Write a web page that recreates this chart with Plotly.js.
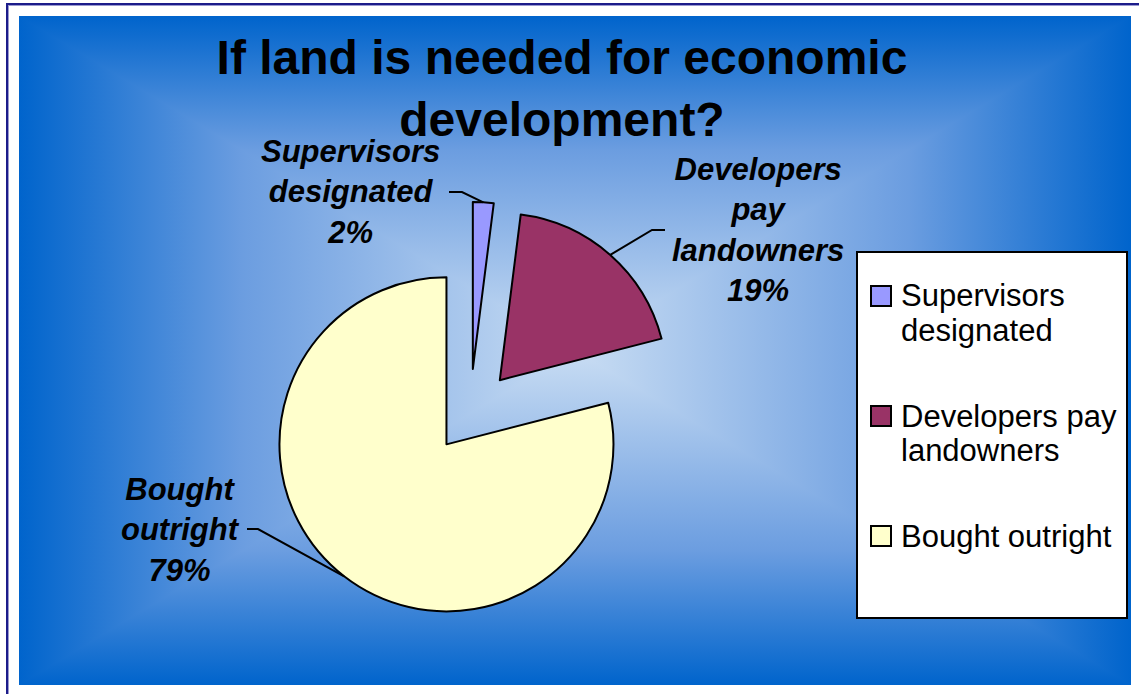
<!DOCTYPE html>
<html>
<head>
<meta charset="utf-8">
<script src="https://cdn.plot.ly/plotly-3.0.1.min.js"></script>
<style>
html,body{margin:0;padding:0;background:#ffffff;}
#wrap{position:relative;width:1139px;height:694px;overflow:hidden;background:#ffffff;}
#frame{position:absolute;left:6px;top:3px;width:1300px;height:900px;border-left:2px solid #1c1c8a;border-top:2px solid #1c1c8a;box-shadow:inset 1px 1px 0 #9a9ad0;}
#bg{position:absolute;left:19px;top:16px;width:1112px;height:669px;overflow:hidden;
  background:linear-gradient(to bottom,#0064cc 0%,#6b9de0 20%,#c9ddf3 50%,#6b9de0 80%,#0064cc 100%);}
.tri{position:absolute;left:0;top:0;width:100%;height:100%;}
#tLeft{clip-path:polygon(0 0,0 100%,50% 50%);background:linear-gradient(to right,#0064cc 0%,#6b9de0 20%,#c9ddf3 50%);}
#tRight{clip-path:polygon(100% 0,100% 100%,50% 50%);background:linear-gradient(to left,#0064cc 0%,#6b9de0 20%,#c9ddf3 50%);}
#plot{position:absolute;left:0;top:0;width:1139px;height:694px;}
</style>
</head>
<body>
<div id="wrap">
  <div id="frame"></div>
  <div id="bg">
    <div class="tri" id="tLeft"></div>
    <div class="tri" id="tRight"></div>
  </div>
  <div id="plot"></div>
</div>
<script>
// ---------- data ----------
const categories = ['Supervisors designated', 'Developers pay landowners', 'Bought outright'];
const values = [2, 19, 79];
const pullFractions = [0.27, 0.27, 0.23];
const sliceColors = ['#9999FF', '#993366', '#FFFFCC'];
const labelLines = [['Supervisors', 'designated'], ['Developers', 'pay', 'landowners'], ['Bought', 'outright']];
const legendLines = [['Supervisors', 'designated'], ['Developers pay', 'landowners'], ['Bought outright']];
const titleText = 'If land is needed for economic<br>development?';

// ---------- layout geometry (pixels) ----------
const W = 1139, H = 694;
const FONT = 'Liberation Sans, Arial, sans-serif';
const pieCx = 470, pieCy = 414, pieR = 167;
const labelLayout = [
  {cx: 350, cy: 192, lineStart: [449, 192], elbow: [462, 192]},
  {cx: 758, cy: 230, lineStart: [665, 230], elbow: [652, 230]},
  {cx: 180, cy: 530, lineStart: [247, 529], elbow: [258, 529]}
];
const legendBox = {x0: 857, y0: 252, x1: 1127, y1: 618};
const legendItems = [{sy: 296}, {sy: 416}, {sy: 536}];
const legendSq = 20, legendSqX = 871, legendTextX = 899, legendLineGap = 34;

const px = x => x / W;
const py = y => 1 - y / H;

const maxPull = Math.max(...pullFractions);
const half = pieR * (1 + maxPull);
const domain = {
  x: [px(pieCx - half), px(pieCx + half)],
  y: [py(pieCy + half), py(pieCy - half)]
};

const total = values.reduce((a, b) => a + b, 0);
const shapes = [];
const annotations = [];

// leader lines + labels, endpoints derived from the slice mid-angles
let cum = 0;
values.forEach((v, i) => {
  const mid = (cum + v / 2) / total;
  cum += v;
  const th = 2 * Math.PI * mid;
  const dx = Math.sin(th), dy = -Math.cos(th);
  const cornerX = pieCx + pullFractions[i] * pieR * dx;
  const cornerY = pieCy + pullFractions[i] * pieR * dy;
  const ax = cornerX + pieR * dx, ay = cornerY + pieR * dy;
  const L = labelLayout[i];
  shapes.push({
    type: 'path', xref: 'paper', yref: 'paper',
    path: 'M' + px(L.lineStart[0]) + ',' + py(L.lineStart[1]) +
          ' L' + px(L.elbow[0]) + ',' + py(L.elbow[1]) +
          ' L' + px(ax) + ',' + py(ay),
    line: {color: '#000000', width: 2}
  });
  const pct = Math.round(v / total * 100) + '%';
  annotations.push({
    xref: 'paper', yref: 'paper', x: px(L.cx), y: py(L.cy),
    xanchor: 'center', yanchor: 'middle', showarrow: false, align: 'center',
    text: '<b><i>' + labelLines[i].concat([pct]).join('<br>') + '</i></b>',
    font: {family: FONT, size: 31, color: '#000000'}
  });
});

// custom legend
shapes.push({
  type: 'rect', xref: 'paper', yref: 'paper',
  x0: px(legendBox.x0), x1: px(legendBox.x1), y0: py(legendBox.y1), y1: py(legendBox.y0),
  fillcolor: '#ffffff', line: {color: '#000000', width: 2}, layer: 'below'
});
categories.forEach((c, i) => {
  const sy = legendItems[i].sy;
  shapes.push({
    type: 'rect', xref: 'paper', yref: 'paper',
    x0: px(legendSqX), x1: px(legendSqX + legendSq),
    y0: py(sy + legendSq / 2), y1: py(sy - legendSq / 2),
    fillcolor: sliceColors[i], line: {color: '#000000', width: 2}
  });
  legendLines[i].forEach((t, k) => {
    annotations.push({
      xref: 'paper', yref: 'paper', x: px(legendTextX), y: py(sy + k * legendLineGap),
      xanchor: 'left', yanchor: 'middle', showarrow: false,
      text: t, font: {family: FONT, size: 31, color: '#000000'}
    });
  });
});

const trace = {
  type: 'pie',
  labels: categories,
  values: values,
  pull: pullFractions,
  sort: false,
  direction: 'clockwise',
  rotation: 0,
  textinfo: 'none',
  hoverinfo: 'label+percent',
  marker: {colors: sliceColors, line: {color: '#000000', width: 2}},
  domain: domain,
  showlegend: false
};

const layout = {
  width: W, height: H,
  margin: {l: 0, r: 0, t: 0, b: 0},
  paper_bgcolor: 'rgba(0,0,0,0)',
  plot_bgcolor: 'rgba(0,0,0,0)',
  showlegend: false,
  title: {
    text: '<b>' + titleText + '</b>',
    font: {family: FONT, size: 48, color: '#000000'},
    xref: 'container', yref: 'container',
    x: 562 / W, xanchor: 'center',
    y: 1 - 74 / H, yanchor: 'top'
  },
  shapes: shapes,
  annotations: annotations
};

Plotly.newPlot('plot', [trace], layout, {displayModeBar: false, staticPlot: true});
</script>
</body>
</html>
